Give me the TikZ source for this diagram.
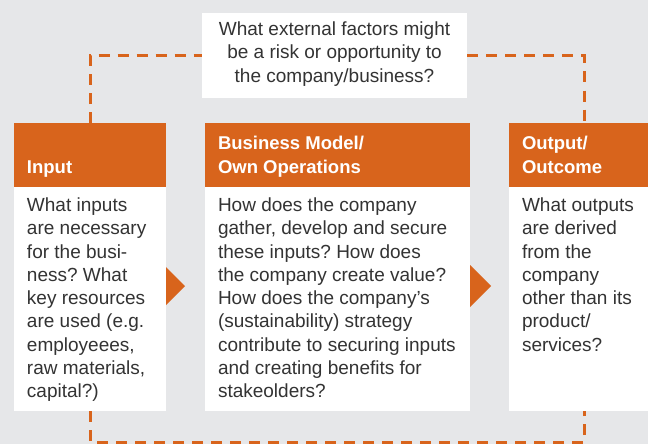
\documentclass[tikz,border=0pt]{standalone}
\usepackage{fontspec}
\setmainfont{Liberation Sans}
\usetikzlibrary{positioning}
\definecolor{bggray}{RGB}{230,231,233}
\definecolor{brandorange}{RGB}{216,100,28}
\definecolor{textgray}{RGB}{51,51,51}
\frenchspacing

\begin{document}
\begin{tikzpicture}[x=1pt,y=-1pt,
  every node/.style={inner sep=0pt, outer sep=0pt},
  box/.style={anchor=north west, fill=white},
  head/.style={anchor=north west, fill=brandorange, minimum height=64pt},
  headtext/.style={anchor=south west, align=left, text=white, font=\fontsize{18.5}{23.3}\selectfont\bfseries, execute at end node=\strut},
  bodytext/.style={anchor=north west, align=left, text=textgray, font=\fontsize{19}{23.3}\selectfont, execute at begin node=\strut},
  flow/.style={brandorange, line width=3pt, dash pattern=on 11pt off 8pt}]
\fill[bggray] (0,0) rectangle (648,444);
\useasboundingbox (0,0) rectangle (648,444);

\node[box, minimum width=265pt, minimum height=85pt, align=center, text=textgray, font=\fontsize{19}{23.3}\selectfont, execute at begin node=\strut, execute at end node=\strut] (ask) at (202,13) {What external factors might\\be a risk or opportunity to\\the company/business?};

\node[head, minimum width=152pt] (inhead) at (14,123) {};
\node[box, minimum width=152pt, minimum height=224pt] (inbody) at (14,187) {};
\node[headtext] (intitle) at ([xshift=13pt,yshift=7pt]inhead.south west) {Input};
\node[bodytext] (intext) at ([xshift=13pt,yshift=-10.7pt]inbody.north west) {What inputs\\are necessary\\for the busi-\\ness? What\\key resources\\are used (e.g.\\employeees,\\raw materials,\\capital?)};

\node[head, minimum width=265pt] (bmhead) at (205,123) {};
\node[box, minimum width=265pt, minimum height=224pt] (bmbody) at (205,187) {};
\node[headtext] (bmtitle) at ([xshift=13pt,yshift=7pt]bmhead.south west) {Business Model/\\Own Operations};
\node[bodytext] (bmtext) at ([xshift=13pt,yshift=-10.7pt]bmbody.north west) {How does the company\\gather, develop and secure\\these inputs? How does\\the company create value?\\How does the company’s\\(sustainability) strategy\\contribute to securing inputs\\and creating benefits for\\stakeolders?};

\node[head, minimum width=139pt] (outhead) at (509,123) {};
\node[box, minimum width=139pt, minimum height=224pt] (outbody) at (509,187) {};
\node[headtext] (outtitle) at ([xshift=13pt,yshift=7pt]outhead.south west) {Output/\\Outcome};
\node[bodytext] (outtext) at ([xshift=13pt,yshift=-10.7pt]outbody.north west) {What outputs\\are derived\\from the\\company\\other than its\\product/\\services?};

\fill[brandorange] (166,267) -- (185,286) -- (166,305) -- cycle;
\fill[brandorange] (470,265) -- (491,286) -- (470,307) -- cycle;

\coordinate (outtop) at (584,123);
\coordinate (outfoot) at (584,411);
\coordinate (loop) at (584,442);
\draw[flow] (inhead.north) |- (ask.west);
\draw[flow] (ask.east) -| (outtop);
\draw[flow] (inbody.south) |- (loop) -- (outfoot);
\end{tikzpicture}
\end{document}
